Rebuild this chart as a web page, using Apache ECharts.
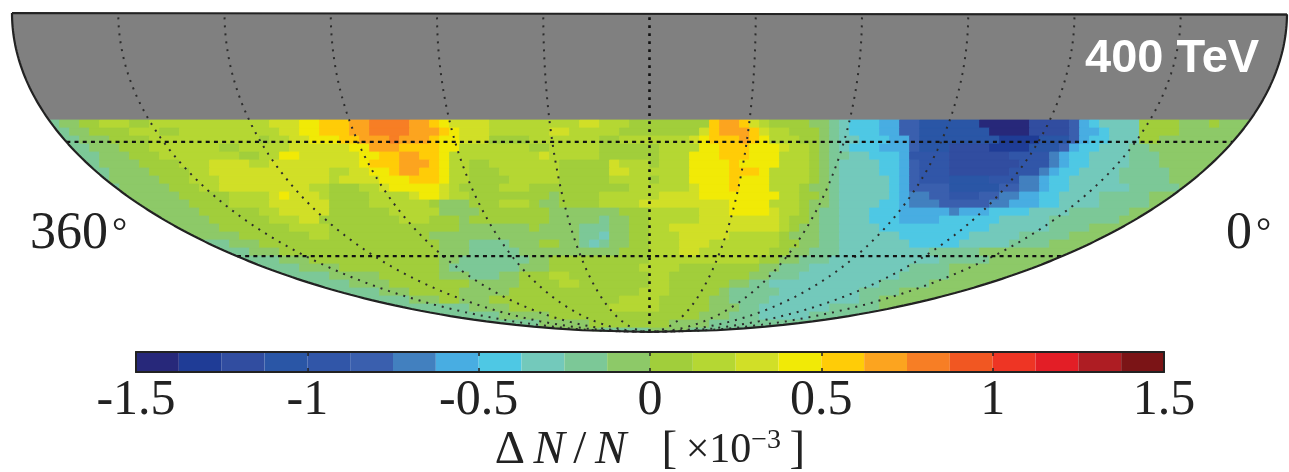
<!DOCTYPE html>
<html><head><meta charset="utf-8">
<style>html,body{margin:0;padding:0;background:#fff}#c{width:1289px;height:472px}</style>
<script src="https://cdn.jsdelivr.net/npm/echarts@6/dist/echarts.min.js"></script>
</head><body><div id="c"></div>
<script>
// Colour bar
const binEdgesMin = -1.5, binWidth = 0.125;
const binColors = ['#27287a','#1f3c96','#314da0','#2a56a6','#3156a8','#3a5fae','#4280bf','#48ade2','#4ec8e4','#73c9bb','#7cc897','#8dc968',
  '#a1ce3b','#b5d733','#d1df27','#f1ea06','#ffcc07','#fca41f','#f77e25','#f15722','#ee3524','#e31e26','#ae1d23','#7b1416'];
const tickValues = [-1.5,-1,-0.5,0,0.5,1,1.5];
// Sky map graticule
const meridians = [-150,-120,-90,-60,-30,30,60,90,120,150];
const centralMeridian = [0];
const parallels = [-30,-60];
// Map cells: each row is a list of [bin, untilColumn] runs.
// bin k = k-th colour bin away from zero (sign = sign of dN/N).
const row00=[[-2,6],[-1,8],[1,10],[2,13],[1,15],[2,27],[3,30],[4,32],[5,35],[6,37],[7,41],[6,43],[5,44],[4,45],[3,49],[2,58],[3,60],[2,63],[1,71],[5,72],[6,74],[5,75],[3,76],[2,77],[1,81],[-1,83],[-2,84],[-3,85],[-4,88],[-5,90],[-7,92],[-9,98],[-12,103],[-10,107],[-7,108],[-5,109],[-4,110],[-3,114],[1,118],[-1,121],[1,122],[-1,130]];
const row01=[[-2,7],[-1,9],[1,13],[2,16],[1,18],[2,28],[3,30],[4,32],[5,35],[6,37],[7,41],[6,44],[5,45],[4,46],[3,49],[2,55],[3,57],[2,62],[1,70],[3,71],[5,72],[6,75],[5,76],[3,77],[2,79],[1,82],[-1,83],[-2,84],[-3,85],[-4,88],[-5,90],[-7,92],[-9,99],[-12,103],[-10,107],[-7,108],[-5,110],[-4,111],[-3,114],[1,118],[-1,130]];
const row02=[[-2,8],[-1,11],[1,15],[2,26],[1,27],[2,29],[3,31],[4,34],[5,36],[6,39],[7,40],[6,43],[5,44],[4,46],[3,49],[1,53],[2,60],[1,62],[2,69],[3,70],[4,71],[5,74],[6,75],[5,76],[4,77],[2,80],[1,82],[-1,83],[-2,84],[-3,86],[-4,89],[-5,91],[-7,92],[-9,100],[-11,104],[-9,107],[-7,108],[-5,109],[-4,111],[-3,114],[1,116],[-1,130]];
const row03=[[-2,9],[-1,12],[1,15],[2,22],[1,24],[2,29],[3,35],[4,37],[6,40],[5,44],[4,46],[2,53],[1,55],[2,60],[1,66],[2,70],[4,72],[5,75],[4,78],[3,79],[2,81],[1,82],[-1,83],[-2,84],[-3,85],[-4,88],[-5,91],[-7,92],[-9,95],[-10,99],[-11,103],[-9,106],[-7,107],[-5,108],[-4,110],[-3,113],[-2,115],[-1,130]];
const row04=[[-2,10],[-1,13],[1,16],[2,24],[1,26],[2,28],[4,30],[3,36],[4,38],[5,40],[6,42],[5,44],[4,45],[2,54],[3,55],[2,60],[1,66],[2,69],[4,72],[5,75],[4,78],[2,81],[1,82],[-1,83],[-2,85],[-3,87],[-4,90],[-5,91],[-8,95],[-10,101],[-8,105],[-6,106],[-5,107],[-4,109],[-3,113],[-2,116],[-1,130]];
const row05=[[-2,10],[-1,14],[1,18],[2,21],[3,25],[2,27],[3,36],[4,37],[5,40],[6,43],[5,44],[4,45],[2,47],[1,49],[2,56],[1,61],[3,62],[2,65],[1,66],[2,69],[4,73],[5,74],[4,78],[2,81],[1,82],[-1,83],[-2,84],[-3,88],[-4,90],[-5,91],[-7,92],[-8,95],[-10,102],[-8,105],[-6,106],[-5,107],[-4,109],[-3,113],[-2,116],[-1,130]];
const row06=[[-2,11],[-1,15],[1,19],[2,21],[3,33],[2,35],[3,37],[4,39],[5,40],[6,42],[5,44],[4,45],[2,47],[1,50],[2,56],[1,61],[3,63],[2,69],[4,73],[5,76],[4,77],[2,81],[1,82],[-1,83],[-2,84],[-3,88],[-4,90],[-5,91],[-7,92],[-8,95],[-10,101],[-8,104],[-6,105],[-5,106],[-4,108],[-3,112],[-2,117],[-1,130]];
const row07=[[-2,11],[-1,16],[1,19],[2,22],[3,33],[2,34],[3,38],[4,41],[5,44],[4,45],[2,47],[1,51],[2,56],[1,61],[2,65],[1,66],[2,69],[4,73],[5,74],[4,77],[2,81],[1,82],[-1,83],[-2,84],[-3,89],[-4,90],[-5,91],[-7,92],[-8,95],[-9,99],[-8,102],[-6,104],[-5,105],[-4,107],[-3,112],[-2,117],[-1,130]];
const row08=[[-2,12],[-1,17],[1,20],[2,22],[3,31],[2,33],[1,36],[2,38],[3,39],[4,44],[3,45],[2,46],[1,50],[2,53],[1,63],[2,69],[3,70],[4,73],[5,74],[4,77],[2,80],[1,81],[-1,83],[-2,84],[-3,89],[-4,90],[-5,91],[-7,95],[-9,100],[-7,102],[-6,104],[-5,105],[-4,107],[-3,113],[-2,118],[-1,130]];
const row09=[[-1,18],[1,23],[2,27],[3,28],[4,29],[3,32],[2,33],[1,37],[2,41],[3,42],[4,44],[3,45],[2,47],[1,55],[-1,56],[1,60],[2,66],[3,70],[4,78],[2,80],[1,82],[-1,83],[-2,84],[-3,89],[-4,90],[-5,91],[-6,93],[-7,95],[-8,98],[-7,100],[-6,102],[-5,104],[-4,106],[-3,110],[-2,115],[-1,130]];
const row10=[[-1,19],[1,23],[2,27],[3,33],[1,37],[2,43],[1,44],[-1,47],[1,50],[2,53],[1,54],[-1,56],[1,60],[2,64],[3,73],[4,77],[2,80],[1,81],[-1,83],[-2,84],[-3,88],[-4,90],[-5,91],[-6,94],[-7,99],[-6,101],[-5,104],[-4,106],[-3,110],[-2,115],[-1,130]];
const row11=[[-1,20],[1,26],[2,28],[3,33],[1,39],[2,44],[-1,48],[1,55],[-1,62],[1,65],[2,70],[3,73],[4,77],[3,78],[2,80],[1,81],[-1,82],[-2,84],[-3,87],[-4,90],[-5,95],[-6,96],[-5,99],[-4,103],[-3,107],[-2,113],[-1,130]];
const row12=[[-1,21],[1,27],[2,30],[3,32],[1,40],[2,43],[1,46],[-1,47],[1,55],[-1,60],[-2,61],[-1,63],[1,65],[2,70],[3,78],[2,79],[1,81],[-1,82],[-2,84],[-3,87],[-4,90],[-5,94],[-4,100],[-3,105],[-2,112],[-1,130]];
const row13=[[-1,22],[1,29],[2,33],[1,46],[-1,53],[1,54],[-1,58],[-2,61],[-1,63],[1,65],[2,67],[3,78],[2,79],[1,80],[-1,82],[-2,84],[-3,88],[-4,99],[-3,105],[-2,109],[-1,130]];
const row14=[[-1,24],[1,31],[2,33],[1,43],[-1,58],[-2,60],[-3,61],[-1,63],[1,65],[2,68],[3,73],[2,78],[1,79],[-1,82],[-2,84],[-3,90],[-4,97],[-3,102],[-2,107],[-1,130]];
const row15=[[-2,23],[-1,26],[1,44],[-1,47],[-2,51],[-1,54],[1,56],[-1,58],[-2,59],[-3,60],[-2,61],[-1,63],[1,65],[2,68],[3,71],[2,78],[1,80],[-1,82],[-2,84],[-3,91],[-4,96],[-3,101],[-2,105],[-1,130]];
const row16=[[-2,25],[-1,28],[1,44],[-1,47],[-2,52],[-1,62],[1,65],[2,68],[3,70],[2,77],[1,79],[-1,81],[-2,84],[-3,93],[-2,98],[-1,130]];
const row17=[[-2,28],[-1,31],[1,44],[-1,46],[-2,53],[-1,55],[1,65],[2,76],[1,78],[-1,80],[-2,83],[-3,94],[-2,99],[-1,130]];
const row18=[[-2,30],[-1,34],[1,44],[-1,45],[-2,52],[-1,55],[1,64],[2,68],[1,76],[-1,78],[-2,81],[-3,91],[-2,95],[-1,130]];
const row19=[[-2,33],[-1,38],[1,44],[-1,47],[-2,50],[-1,52],[1,55],[2,57],[1,65],[2,67],[1,75],[-1,77],[-2,80],[-3,90],[-2,95],[-1,130]];
const row20=[[-2,35],[-1,39],[1,47],[-1,52],[1,56],[2,58],[1,65],[2,67],[1,73],[-1,75],[-2,77],[-3,88],[-2,93],[-1,130]];
const row21=[[-2,38],[-1,41],[1,46],[-1,51],[1,64],[2,67],[1,72],[-1,73],[-2,78],[-3,86],[-2,90],[-1,130]];
const row22=[[-2,41],[-1,44],[1,46],[-1,49],[1,62],[2,66],[1,71],[-1,73],[-2,77],[-3,86],[-2,88],[-1,130]];
const row23=[[-2,47],[-1,51],[1,61],[2,66],[1,71],[-1,74],[-2,76],[-3,83],[-2,88],[-1,130]];
const row24=[[-2,50],[-1,55],[1,70],[-1,73],[-2,76],[-3,81],[-2,130]];
const row25=[[-2,54],[-1,59],[1,67],[-1,71],[-2,130]];
const row26=[[-1,60],[-2,65],[-1,69],[-2,130]];
const mapRows=[row00,row01,row02,row03,row04,row05,row06,row07,row08,row09,row10,row11,row12,row13,row14,row15,row16,row17,row18,row19,row20,row21,row22,row23,row24,row25,row26];

// Map plane: x in degrees (-180..180), y = sin(theta) (-1..0)
const colCentre = 65, colDeg = 360/127.5, rowStep = 8/319, mapCutY = -107/319;
function halfWidth(y){ return 180*Math.sqrt(Math.max(0,1-y*y)); }
function mollweide(lon,lat){
  const p=lat*Math.PI/180; let t=p;
  if(Math.abs(lat)<90){ for(let i=0;i<30;i++){ t-=(2*t+Math.sin(2*t)-Math.PI*Math.sin(p))/(2+2*Math.cos(2*t)); } } 
  return [lon*Math.cos(t), Math.sin(t)];
}
function binValue(k){ return Math.sign(k)*(Math.abs(k)-0.5)*binWidth; }

const cellData=[];
mapRows.forEach((row,i)=>{
  let start=0;
  row.forEach(([k,until])=>{
    if(until>start) cellData.push([(start-colCentre)*colDeg,(until-colCentre)*colDeg,mapCutY-i*rowStep,mapCutY-(i+1)*rowStep,binValue(k)]);
    start=Math.max(start,until);
  });
});
const barData=binColors.map((c,i)=>[binEdgesMin+i*binWidth,binEdgesMin+(i+1)*binWidth,0,1,binEdgesMin+(i+.5)*binWidth]);
const pieces=binColors.map((color,i)=>({min:binEdgesMin+i*binWidth,max:binEdgesMin+(i+1)*binWidth,color}));

function renderCell(params,api){
  const x0=api.value(0),x1=api.value(1),y0=api.value(2),y1=Math.max(api.value(3),-1);
  const left=[],right=[];
  for(let t=0;t<=8;t++){
    const y=y0+(y1-y0)*t/8,w=halfWidth(y),l=Math.max(x0,-w),r=Math.min(x1,w);
    if(l<r){left.push([l,y]);right.unshift([r,y]);}
  }
  if(left.length<1) return null;
  const c=api.visual('color');
  return {type:'polygon',shape:{points:left.concat(right).map(p=>api.coord(p))},style:{fill:c,stroke:c,lineWidth:0.8}};
}
function renderBin(params,api){
  const a=api.coord([api.value(0),1]),b=api.coord([api.value(1),0]);
  return {type:'rect',shape:{x:a[0],y:a[1],width:b[0]-a[0],height:b[1]-a[1]},style:{fill:api.visual('color')}};
}
function renderCap(params,api){
  const pts=[];
  for(let i=0;i<=60;i++){const y=mapCutY*i/60;pts.push([-halfWidth(y),y]);}
  for(let i=60;i>=0;i--){const y=mapCutY*i/60;pts.push([halfWidth(y),y]);}
  return {type:'polygon',shape:{points:pts.map(p=>api.coord(p))},style:{fill:'#808080'}};
}
function curve(lon){const a=[];for(let lat=-1;lat>=-90;lat-=1)a.push(mollweide(lon,lat));return a;}
function parallel(lat){const a=[];for(let lon=-180;lon<=180;lon+=10)a.push(mollweide(lon,lat));return a;}
function gridLine(data,lineStyle){return {type:'line',xAxisIndex:0,yAxisIndex:0,data,symbol:'none',silent:true,z:5,clip:false,animation:false,lineStyle};}

const dotted={color:'#2c2c2c',width:2,type:[2,6],cap:'butt'};
const series=[
  {type:'custom',xAxisIndex:0,yAxisIndex:0,renderItem:renderCap,data:[[0,0]],z:1,silent:true,clip:false},
  {type:'custom',xAxisIndex:0,yAxisIndex:0,renderItem:renderCell,data:cellData,encode:{x:[0,1],y:[2,3]},z:2,silent:true,clip:false},
  {type:'custom',xAxisIndex:1,yAxisIndex:1,renderItem:renderBin,data:barData,encode:{x:[0,1],y:[2,3]},z:2,silent:true}
];
meridians.forEach(l=>series.push(gridLine(curve(l),dotted)));
centralMeridian.forEach(l=>series.push(gridLine(curve(l),{color:'#111',width:2.6,type:[2.6,5.4]})));
parallels.forEach(l=>series.push(gridLine(parallel(l),{color:'#111',width:2.2,type:[4,4.2]})));
const rim=[];for(let i=0;i<=180;i++){const y=-i/180;rim.push([-halfWidth(y),y]);}
for(let i=179;i>=0;i--){const y=-i/180;rim.push([halfWidth(y),y]);}
rim.push(rim[0]);
series.push(gridLine(rim,{color:'#222',width:2.2}));

const serif='"Liberation Serif"';
const nameStyle={fontFamily:serif,fontSize:47,color:'#222'};
const option={
  animation:false,
  backgroundColor:'#fff',
  grid:[{left:12,top:13,width:1275,height:319,outerBoundsMode:'none'},{left:136,top:352,width:1028,height:20,outerBoundsMode:'none'}],
  visualMap:{show:false,type:'piecewise',dimension:4,seriesIndex:[1,2],pieces},
  xAxis:[
    {gridIndex:0,type:'value',min:-180,max:180,show:false},
    {gridIndex:1,type:'value',min:-1.5,max:1.5,interval:0.5,position:'bottom',z:6,
     axisLine:{show:true,onZero:false,lineStyle:{color:'#222',width:2}},
     axisTick:{show:true,inside:true,length:4,lineStyle:{color:'#222',width:1.5}},splitLine:{show:false},
     axisLabel:{show:true,margin:4,fontFamily:serif,fontSize:50,color:'#222',showMinLabel:true,showMaxLabel:true,
       formatter:v=>tickValues.includes(v)?String(v):''},
     name:'{r|Δ}{g| }{i|N}{g| }{r|/}{g| }{i|N}{r|   [}{g| }{m|×10}{s|−3}{g| }{r|]}',nameLocation:'middle',nameGap:55,
     nameTextStyle:{color:'#222',rich:{
       r:nameStyle,
       g:{fontFamily:serif,fontSize:34,color:'#222'},
       i:Object.assign({},nameStyle,{fontStyle:'italic'}),
       m:{fontFamily:serif,fontSize:42,color:'#222'},
       s:{fontFamily:serif,fontSize:28,color:'#222',verticalAlign:'top'}}}},
    {gridIndex:1,type:'value',min:-1.5,max:1.5,interval:0.5,position:'top',z:6,
     axisLine:{show:true,onZero:false,lineStyle:{color:'#222',width:2}},
     axisTick:{show:true,inside:true,length:4,lineStyle:{color:'#222',width:1.5}},axisLabel:{show:false},splitLine:{show:false}}
  ],
  yAxis:[
    {gridIndex:0,type:'value',min:-1,max:0,show:false},
    {gridIndex:1,type:'value',min:0,max:1,position:'left',z:6,axisLine:{show:true,onZero:false,lineStyle:{color:'#222',width:2}},axisTick:{show:false},axisLabel:{show:false},splitLine:{show:false}},
    {gridIndex:1,type:'value',min:0,max:1,position:'right',z:6,axisLine:{show:true,onZero:false,lineStyle:{color:'#222',width:2}},axisTick:{show:false},axisLabel:{show:false},splitLine:{show:false}}
  ],
  graphic:[
    {type:'text',z:20,left:1085,top:36,style:{text:'400 TeV',fill:'#fff',font:'bold 47px "Liberation Sans"'}},
    {type:'text',z:20,left:30,top:208,style:{text:'360',fill:'#222',font:'52px "Liberation Serif"'}},
    {type:'text',z:20,left:112,top:215,style:{text:'°',fill:'#222',font:'38px "Liberation Serif"'}},
    {type:'text',z:20,left:1226,top:208,style:{text:'0',fill:'#222',font:'52px "Liberation Serif"'}},
    {type:'text',z:20,left:1256,top:215,style:{text:'°',fill:'#222',font:'38px "Liberation Serif"'}}
  ],
  series
};
echarts.init(document.getElementById('c'),null,{renderer:'canvas'}).setOption(option);
</script></body></html>
